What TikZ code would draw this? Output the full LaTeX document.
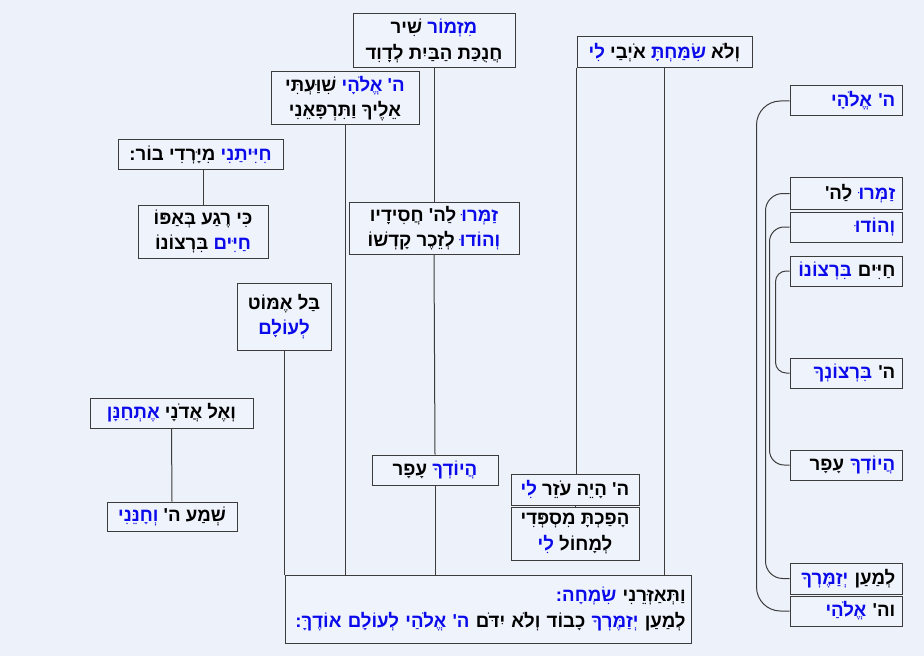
\documentclass[tikz,border=0pt]{standalone}
\usepackage{fontspec}
\TeXXeTstate=1
\newfontfamily\hebfont[Script=Hebrew]{Liberation Sans}
\definecolor{bgcol}{RGB}{237,242,250}
\definecolor{boxfill}{RGB}{239,243,251}
\definecolor{boxline}{RGB}{60,60,60}
% blue word inside \beginR..\endR (the segment is output reversed, so pop comes first)
\newcommand\hb[1]{\special{color pop}#1\special{color push rgb 0.039 0.039 0.922}}
\newcommand\versefont{\hebfont\bfseries\fontsize{14}{19}\selectfont}
\tikzset{every picture/.style={line width=0.75pt}}
\tikzset{
  verse/.style={draw=boxline, fill=boxfill, line width=0.75pt, inner sep=2pt, align=center, font=\versefont},
  rbox/.style={verse, minimum width=84pt, minimum height=22.5pt, text width=74pt, inner xsep=5pt, align=right},
  link/.style={draw=boxline, line width=0.75pt},
}

\begin{document}
\begin{tikzpicture}[x=0.75pt,y=0.75pt,yscale=-1,xscale=1]
%set diagram left start at 0, and has height of 656
\fill[bgcol] (0,0) rectangle (924,656);

% Text Node
\node[verse, minimum width=121.5pt, minimum height=40.5pt] (a) at (434,41) {\beginR\hb{מִזְמוֹר} שִׁיר\endR\\\beginR חֲנֻכַּת הַבַּיִת לְדָוִד\endR};
% Text Node
\node[verse, minimum width=131.25pt, minimum height=23.25pt] (b) at (664.5,52.5) {\beginR וְלֹא \hb{שִׂמַּחְתָּ} אֹיְבַי \hb{לִי}\endR};
% Text Node
\node[verse, minimum width=111pt, minimum height=39.75pt] (c) at (345,98.5) {\beginR\hb{ה' אֱלֹהָי} שִׁוַּעְתִּי\endR\\\beginR אֵלֶיךָ וַתִּרְפָּאֵנִי\endR};
% Text Node
\node[verse, minimum width=123.75pt, minimum height=22.5pt] (d) at (200.5,155) {\beginR\hb{חִיִּיתַנִי} מִיָּרְדִי בוֹר:\endR};
% Text Node
\node[verse, minimum width=97.5pt, minimum height=39.75pt] (e) at (203,231.5) {\beginR כִּי רֶגַע בְּאַפּוֹ\endR\\\beginR\hb{חַיִּים} בִּרְצוֹנוֹ\endR};
% Text Node
\node[verse, minimum width=127.5pt, minimum height=39pt] (f) at (434,228) {\beginR\hb{זַמְּרוּ} לַה' חֲסִידָיו\endR\\\beginR\hb{וְהוֹדוּ} לְזֵכֶר קָדְשׁוֹ\endR};
% Text Node
\node[verse, minimum width=70.5pt, minimum height=50.25pt] (g) at (284,316.5) {\beginR בַּל אֶמּוֹט\endR\\\beginR\hb{לְעוֹלָם}\endR};
% Text Node
\node[verse, minimum width=122.25pt, minimum height=22.5pt] (h) at (171.5,413) {\beginR וְאֶל אֲדֹנָי \hb{אֶתְחַנָּן}\endR};
% Text Node
\node[verse, minimum width=97.5pt, minimum height=21.75pt] (i) at (172,516.5) {\beginR שְׁמַע ה' \hb{וְחָנֵּנִי}\endR};
% Text Node
\node[verse, minimum width=94.5pt, minimum height=22.5pt] (j) at (435,470) {\beginR\hb{הֲיוֹדְךָ} עָפָר\endR};
% Text Node
\node[verse, minimum width=96pt, minimum height=23.25pt] (k) at (575,489.5) {\beginR ה' הָיֵה עֹזֵר \hb{לִי}\endR};
% Text Node
\node[verse, minimum width=96pt, minimum height=39.75pt] (l) at (575,533.5) {\beginR הָפַכְתָּ מִסְפְּדִי\endR\\\beginR לְמָחוֹל \hb{לִי}\endR};
% Text Node
\node[verse, minimum width=304.5pt, minimum height=51pt, text width=296.5pt, inner xsep=4pt, align=right] (m) at (488,609) {\beginR וַתְּאַזְּרֵנִי \hb{שִׂמְחָה:}\endR\\\beginR לְמַעַן \hb{יְזַמֶּרְךָ} כָבוֹד וְלֹא יִדֹּם \hb{ה' אֱלֹהַי לְעוֹלָם אוֹדֶךָּ:}\endR};

% Text Node
\node[rbox] (r1) at (846,101) {\beginR\hb{ה' אֱלֹהָי}\endR};
% Text Node
\node[rbox, minimum height=23.25pt] (r2) at (846,193.5) {\beginR\hb{זַמְּרוּ} לַה'\endR};
% Text Node
\node[rbox] (r3) at (846,227) {\beginR\hb{וְהוֹדוּ}\endR};
% Text Node
\node[rbox] (r4) at (846,271) {\beginR חַיִּים \hb{בִּרְצוֹנוֹ}\endR};
% Text Node
\node[rbox] (r5) at (846,373) {\beginR ה' \hb{בִּרְצוֹנְךָ}\endR};
% Text Node
\node[rbox] (r6) at (846,465) {\beginR\hb{הֲיוֹדְךָ} עָפָר\endR};
% Text Node
\node[rbox, minimum height=23.25pt] (r7) at (846,578.5) {\beginR לְמַעַן \hb{יְזַמֶּרְךָ}\endR};
% Text Node
\node[rbox] (r8) at (846,611) {\beginR וה' \hb{אֱלֹהַי}\endR};

%Straight Lines
\draw[link] (a.south) -- (f.north);
\draw[link] (f.south) -- (j.north);
\draw[link] (j.south) -- (j.south |- m.north);
\draw[link] (c.south) -- (c.south |- m.north);
\draw[link] (e.north |- d.south) -- (e.north);
\draw[link] (m.north west |- g.south) -- (m.north west);
\draw[link] (h.south) -- (i.north);
\draw[link] (b.south west) -- (b.south west |- k.north);
\draw[link] (b.south) -- (b.south |- m.north);
\draw[link] (k.south) -- (l.north);

%Curve Lines
\draw[link, rounded corners=18pt] (r1.west) -- ++(-33,0) |- (r8.west);
\draw[link, rounded corners=13pt] (r2.west) -- ++(-24,0) |- (r7.west);
\draw[link, rounded corners=11pt] (r3.west) -- ++(-20,0) |- (r6.west);
\draw[link, rounded corners=8pt] (r4.west) -- ++(-14,0) |- (r5.west);

\end{tikzpicture}
\end{document}
